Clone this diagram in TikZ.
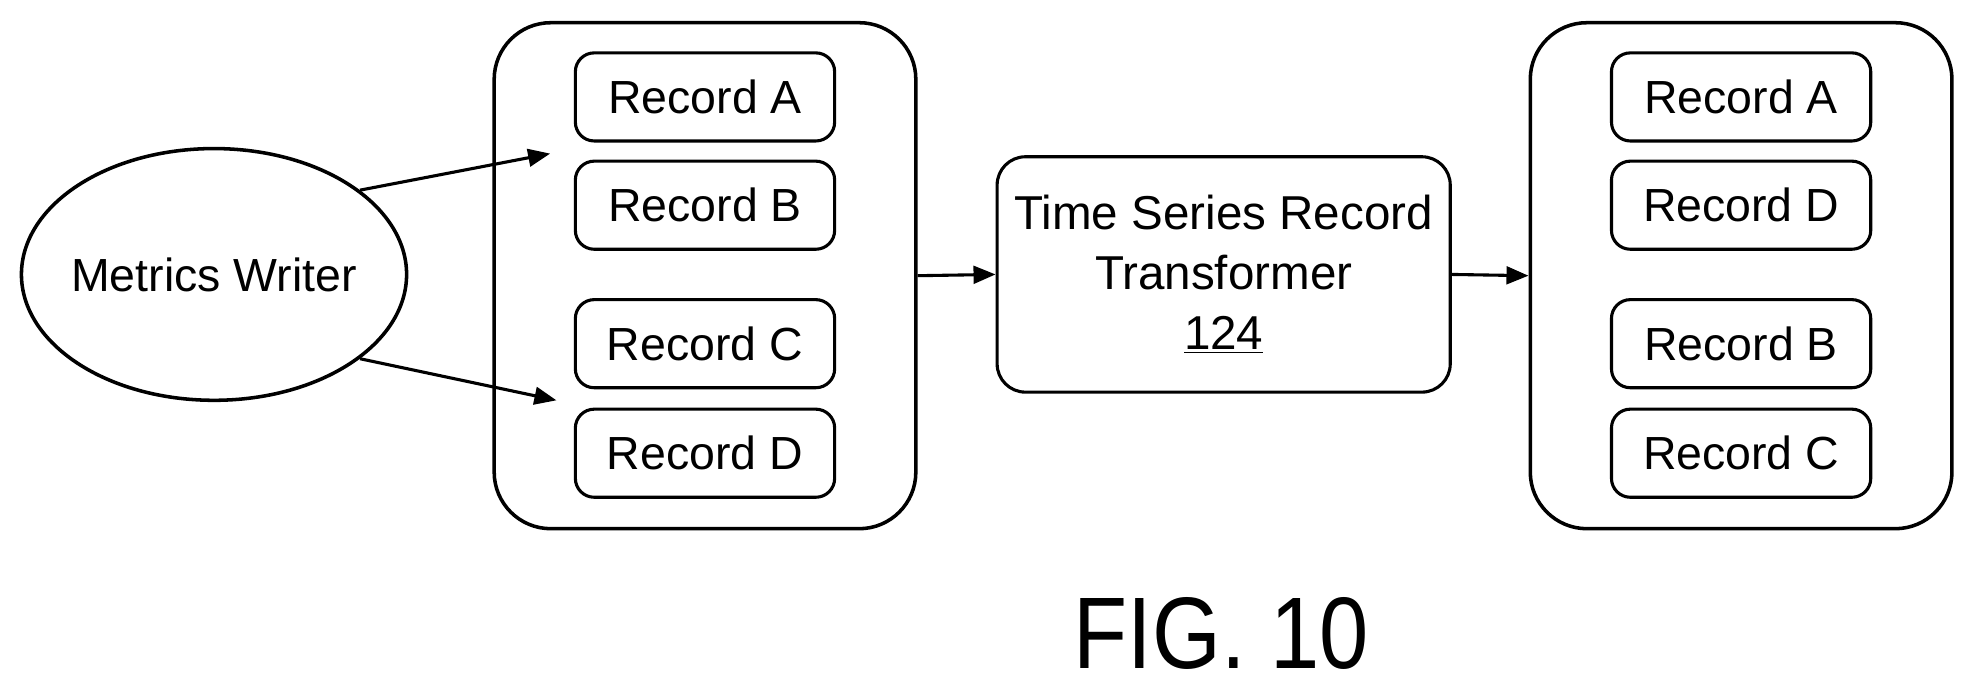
\documentclass[tikz,border=0pt]{standalone}
\usepackage{fontspec}
\setmainfont{Liberation Sans}
\usetikzlibrary{arrows.meta,shapes.geometric}
\begin{document}
\begin{tikzpicture}[x=0.02cm,y=-0.02cm,
  rec/.style={draw,line width=1.4pt,rounded corners=0.3cm,minimum width=4.12cm,minimum height=1.4cm,inner sep=0pt,font=\fontsize{21}{25}\selectfont},
  cont/.style={draw,line width=1.6pt,rounded corners=0.9cm,minimum width=6.7cm,minimum height=8.04cm,inner sep=0pt},
  arr/.style={-{Triangle[length=0.35cm,width=0.28cm]},line width=1.4pt}]
\useasboundingbox (0,0) rectangle (1568,546);
\node[draw,ellipse,line width=1.6pt,minimum width=6.12cm,minimum height=4cm,inner sep=0pt] (mw) at (170,218) {};
\node[font=\fontsize{21}{25}\selectfont] (mwt) at (mw.center) {Metrics Writer};
\node[cont] (lc) at (560,219) {};
\node[rec] (la) at (560,77) {Record A};
\node[rec] (lb) at (560,163) {Record B};
\node[rec] (lcc) at (560,273) {Record C};
\node[rec] (ld) at (560,360) {Record D};
\node[draw,line width=1.4pt,rounded corners=0.45cm,minimum width=7.2cm,minimum height=3.74cm,inner sep=0pt,align=center,font=\fontsize{21.5}{27}\selectfont] (ts) at (972,218) {Time Series Record\\Transformer\\\underline{124}};
\node[cont] (rc) at (1383,219) {};
\node[rec] (ra) at (1383,77) {Record A};
\node[rec] (rb) at (1383,163) {Record D};
\node[rec] (rcc) at (1383,273) {Record B};
\node[rec] (rd) at (1383,360) {Record C};
\coordinate (t1) at (437,122);
\coordinate (t2) at (442,318);
\draw[arr] (mw.30) -- (t1);
\draw[arr] (mw.-30) -- (t2);
\draw[arr] (lc.east) -- (ts.west);
\draw[arr] (ts.east) -- (rc.west);
\node[font=\fontsize{40}{46}\selectfont,yscale=1.15] (fig) at (970,503) {FIG. 10};
\end{tikzpicture}
\end{document}
